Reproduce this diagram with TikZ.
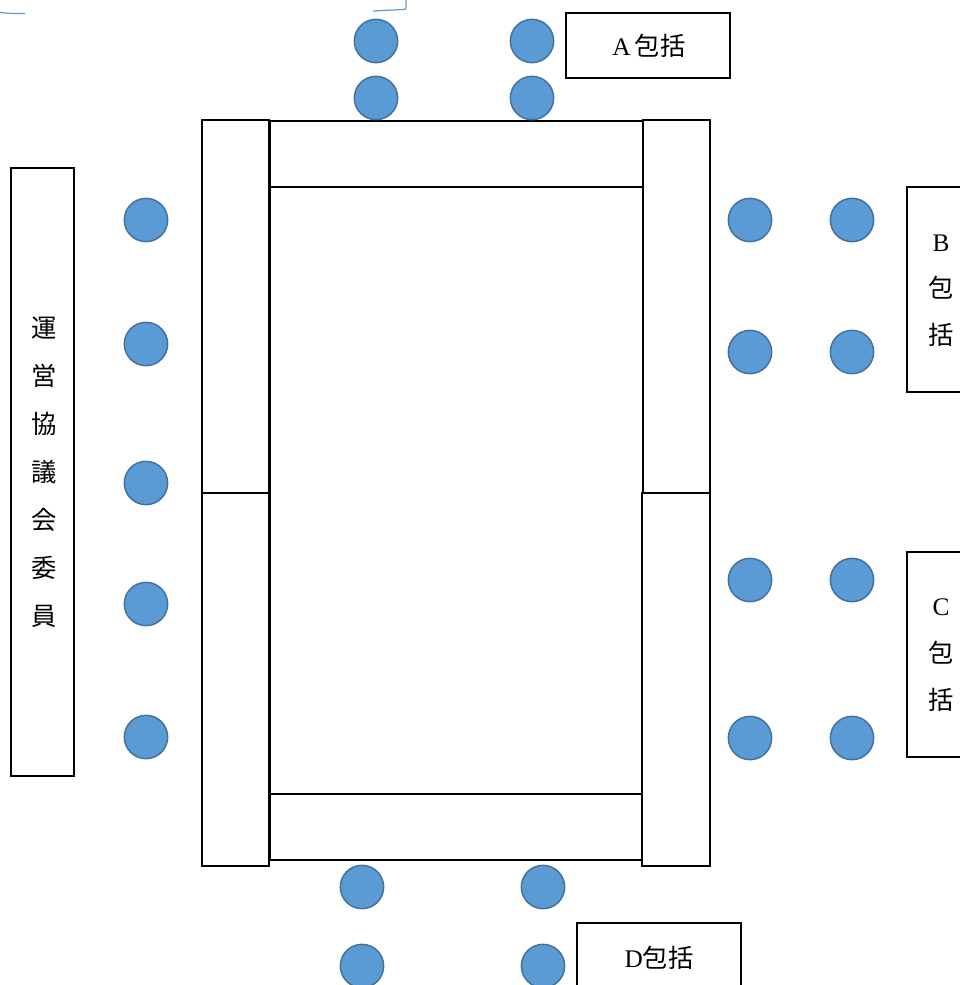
\documentclass[tikz,border=0pt]{standalone}
\usepackage{fontspec}
\setmainfont{Liberation Serif}
\newfontfamily\cjk{Noto Sans CJK JP}
\definecolor{seatfill}{HTML}{5B9BD5}
\definecolor{seatline}{HTML}{41719C}
\begin{document}
\begin{tikzpicture}[x=0.75pt,y=-0.75pt,
  seat/.style={circle,fill=seatfill,draw=seatline,line width=1.1pt,minimum size=32.5pt,inner sep=0pt},
  panel/.style={draw=black,line width=1.5pt,fill=white},
  labelbox/.style={draw=black,line width=1.5pt,fill=white,inner sep=0pt},
  lbl/.style={font=\fontsize{19}{22}\selectfont,align=center,inner sep=0pt},
  stroke/.style={draw=seatfill,line width=0.9pt}]
\useasboundingbox (0,0) rectangle (960,985);

% stray strokes along the top edge
\draw[stroke] (0,12.5) .. controls (10,13.5) .. (25,13.5);
\draw[stroke] (373,11) -- (403,9.5) .. controls (406,9.5) .. (406,6) -- (406,0);

% table: centre surface and end bars
\draw[panel] (270,121) rectangle (643,860);
\draw[panel] (270,121) rectangle (643,187);
\draw[panel] (270,794) rectangle (643,860);
% side tables
\draw[panel] (202,120) rectangle (269,493);
\draw[panel] (202,493) rectangle (269,866);
\draw[panel] (643,120) rectangle (710,493);
\draw[panel] (642,493) rectangle (710,866);

% seats above the table
\node[seat] (a1) at (376,41) {};
\node[seat] (a2) at (532,41) {};
\node[seat] (a3) at (376,98) {};
\node[seat] (a4) at (532,98) {};
% seats on the left
\node[seat] (l1) at (146,220) {};
\node[seat] (l2) at (146,344) {};
\node[seat] (l3) at (146,483) {};
\node[seat] (l4) at (146,604) {};
\node[seat] (l5) at (146,737) {};
% seats on the right, upper group
\node[seat] (b1) at (750,220) {};
\node[seat] (b2) at (852,220) {};
\node[seat] (b3) at (750,352) {};
\node[seat] (b4) at (852,352) {};
% seats on the right, lower group
\node[seat] (c1) at (750,580) {};
\node[seat] (c2) at (852,580) {};
\node[seat] (c3) at (750,738) {};
\node[seat] (c4) at (852,738) {};
% seats below the table
\node[seat] (d1) at (362,887) {};
\node[seat] (d2) at (543,887) {};
\node[seat] (d3) at (362,966) {};
\node[seat] (d4) at (543,966) {};

% group labels
\node[labelbox,minimum width=123pt,minimum height=48.75pt] (boxA) at (648,45.5) {};
\node[lbl] (txtA) at (649,46) {A\,{\cjk 包括}};

\draw[labelbox] (907,187) rectangle (975,392);
\node[lbl] (txtB) at (941,290.5) {B\\[13pt]{\cjk 包}\\[13pt]{\cjk 括}};

\draw[labelbox] (907,552) rectangle (975,757);
\node[lbl] (txtC) at (941,655) {C\\[13pt]{\cjk 包}\\[13pt]{\cjk 括}};

\draw[labelbox] (577,923) rectangle (741,1000);
\node[lbl] (txtD) at (659,958) {D{\cjk 包括}};

\node[labelbox,minimum width=47.25pt,minimum height=456pt] (boxK) at (42.5,472) {};
\node[lbl,font=\fontsize{19}{22}\selectfont\cjk] (txtK) at (44,472.5)
  {運\\[14pt]営\\[14pt]協\\[14pt]議\\[14pt]会\\[14pt]委\\[14pt]員};
\end{tikzpicture}
\end{document}
